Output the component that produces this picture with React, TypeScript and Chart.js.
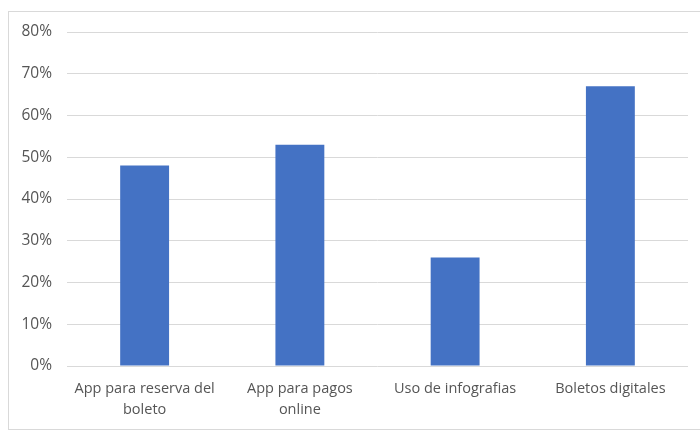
import React, { useEffect, useRef } from "react";
import { Chart, registerables } from "chart.js";

Chart.register(...registerables);

const categories: (string | string[])[] = [
  ["App para reserva del", "boleto"],
  ["App para pagos", "online"],
  "Uso de infografias",
  "Boletos digitales",
];
const values: number[] = [48, 53, 26, 67];
const yTicks: number[] = [0, 10, 20, 30, 40, 50, 60, 70, 80];

const framePlugin = {
  id: "frame",
  beforeDraw(chart: any) {
    const ctx = chart.ctx;
    ctx.save();
    ctx.fillStyle = "#ffffff";
    ctx.fillRect(0, 0, chart.width, chart.height);
    ctx.strokeStyle = "#d9d9d9";
    ctx.lineWidth = 1;
    ctx.strokeRect(8.5, 11.5, chart.width, chart.height - 13);
    ctx.restore();
  },
};

export default function App() {
  const ref = useRef<HTMLCanvasElement | null>(null);
  useEffect(() => {
    document.body.style.margin = "0";
    const chart = new Chart(ref.current!, {
      type: "bar",
      data: {
        labels: categories,
        datasets: [
          {
            data: values,
            backgroundColor: "#4472C4",
            borderWidth: 0,
            barPercentage: 0.63,
            categoryPercentage: 0.5,
          },
        ],
      },
      options: {
        animation: false,
        responsive: false,
        maintainAspectRatio: false,
        layout: { padding: { top: 32, right: 12, left: 0, bottom: 0 } },
        plugins: { legend: { display: false }, tooltip: { enabled: false } },
        scales: {
          x: {
            grid: { display: false, drawTicks: false },
            border: { display: false },
            ticks: {
              color: "#555555",
              font: { family: "Open Sans", size: 14.5, lineHeight: 1.4 },
              padding: 13,
              maxRotation: 0,
              autoSkip: false,
            },
            afterFit(scale: any) {
              scale.height = 65;
            },
          },
          y: {
            min: 0,
            max: 80,
            afterBuildTicks(scale: any) {
              scale.ticks = yTicks.map((v) => ({ value: v }));
            },
            grid: { color: "#d9d9d9", drawTicks: false, lineWidth: 1 },
            border: { display: false },
            ticks: {
              color: "#555555",
              font: { family: "Open Sans", size: 15.5 },
              padding: 15,
              callback: (v: any) => v + "%",
            },
            afterFit(scale: any) {
              scale.width = 67;
            },
          },
        },
      },
      plugins: [framePlugin],
    });
    return () => chart.destroy();
  }, []);
  return (
    <div style={{ width: 700, height: 431 }}>
      <canvas ref={ref} width={700} height={431} style={{ display: "block" }} />
    </div>
  );
}
